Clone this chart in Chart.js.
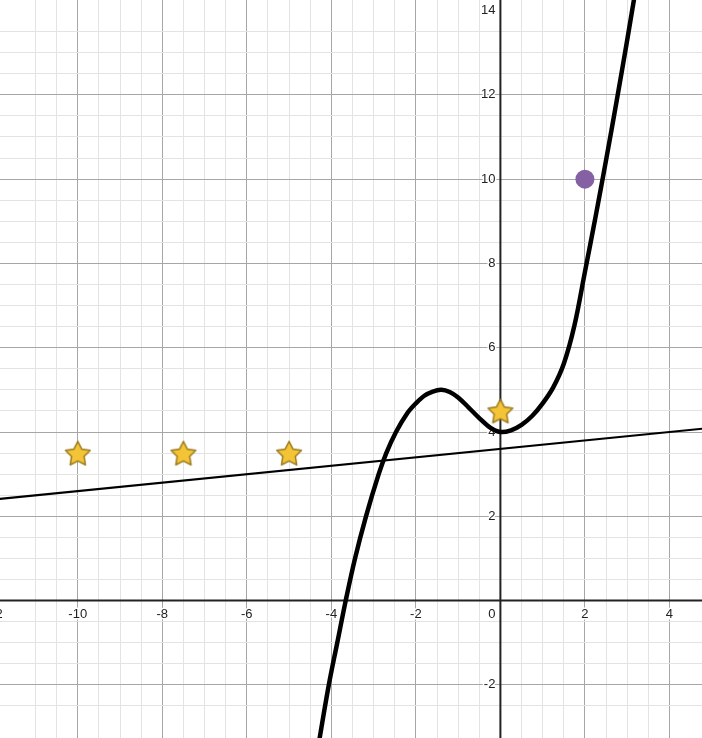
<!DOCTYPE html>
<html>
<head>
<meta charset="utf-8">
<script src="https://cdn.jsdelivr.net/npm/chart.js@4.4.1/dist/chart.umd.min.js"></script>
<style>
  body { margin: 0; background: #fff; }
  #wrap { width: 702px; height: 738px; position: relative; }
</style>
</head>
<body>
<div id="wrap"><canvas id="myChart"></canvas></div>
<script>
// visible window of the graph
const xMin = -11.84, xMax = 4.77;
const yMin = -3.26, yMax = 14.25;

// axis labels
const xTickLabels = [-12, -10, -8, -6, -4, -2, 2, 4];
const yTickLabels = [-2, 2, 4, 6, 8, 10, 12, 14];

// thick curve, points
const curveX = [-4.30, -4.06, -3.86, -3.66, -3.44, -3.18, -2.88, -2.70, -2.47, -2.20, -2.00, -1.80, -1.60, -1.40, -1.20, -1.00, -0.75, -0.50, -0.25, 0.00, 0.25, 0.50, 0.75, 1.00, 1.25, 1.50, 1.75, 2.00, 2.25, 2.50, 2.75, 3.00, 3.25];
const curveY = [-3.40, -2.00, -1.00, 0.00, 1.00, 2.00, 3.00, 3.50, 4.00, 4.45, 4.68, 4.86, 4.96, 5.00, 4.95, 4.82, 4.58, 4.33, 4.11, 4.00, 4.04, 4.17, 4.38, 4.68, 5.06, 5.62, 6.52, 7.80, 9.10, 10.45, 11.85, 13.30, 14.80];

// thin straight line
const lineX = [-12, 5];
const lineY = [2.4, 4.1];

// star markers
const starX = [-10, -7.5, -5, 0];
const starY = [3.5, 3.5, 3.5, 4.5];

// purple point
const dotX = [2];
const dotY = [10];

function toPoints(xs, ys) {
  return xs.map((x, i) => ({ x: x, y: ys[i] }));
}

// filled star image for the point style
function makeStar() {
  const R = 13, r = 6.6, lw = 1.5;
  const h = R * (1 + Math.cos(Math.PI / 5));
  const w = 2 * R * Math.sin(2 * Math.PI / 5);
  const c = document.createElement('canvas');
  c.width = Math.ceil(w + lw * 2 + 2);
  c.height = Math.ceil(h + lw * 2 + 2);
  const g = c.getContext('2d');
  const cx = c.width / 2;
  const cy = (c.height - h) / 2 + R; // centre the bounding box
  g.beginPath();
  for (let i = 0; i < 10; i++) {
    const rad = i % 2 === 0 ? R : r;
    const a = -Math.PI / 2 + i * Math.PI / 5;
    const px = cx + rad * Math.cos(a);
    const py = cy + rad * Math.sin(a);
    if (i === 0) g.moveTo(px, py); else g.lineTo(px, py);
  }
  g.closePath();
  g.fillStyle = '#f3c436';
  g.fill();
  g.lineJoin = 'round';
  g.lineWidth = lw;
  g.strokeStyle = '#9c7b1f';
  g.stroke();
  return c;
}

function isMultiple(v, step) {
  const q = v / step;
  return Math.abs(q - Math.round(q)) < 1e-6;
}

function gridColor(ctx) {
  const v = ctx.tick ? ctx.tick.value : 0;
  if (isMultiple(v, 2)) return '#a6a6a6';
  if (isMultiple(v, 0.5)) return '#e3e3e3';
  return 'rgba(0,0,0,0)';
}

// axes through the origin and the tick numbers
const axesPlugin = {
  id: 'axesPlugin',
  beforeDatasetsDraw(chart) {
    const ctx = chart.ctx;
    const xs = chart.scales.x, ys = chart.scales.y;
    const x0 = xs.getPixelForValue(0);
    const y0 = ys.getPixelForValue(0);
    const area = chart.chartArea;
    ctx.save();
    ctx.strokeStyle = '#222';
    ctx.lineWidth = 2;
    ctx.beginPath();
    ctx.moveTo(area.left, y0);
    ctx.lineTo(area.right, y0);
    ctx.moveTo(x0, area.top);
    ctx.lineTo(x0, area.bottom);
    ctx.stroke();

    ctx.font = '13px "Liberation Sans", Arial, sans-serif';
    ctx.fillStyle = '#222';
    ctx.strokeStyle = '#fff';
    ctx.lineWidth = 3;
    ctx.lineJoin = 'round';

    ctx.textAlign = 'center';
    ctx.textBaseline = 'alphabetic';
    xTickLabels.forEach(v => {
      const px = xs.getPixelForValue(v);
      ctx.strokeText(String(v), px, y0 + 17);
      ctx.fillText(String(v), px, y0 + 17);
    });
    ctx.textAlign = 'right';
    ctx.strokeText('0', x0 - 5, y0 + 17);
    ctx.fillText('0', x0 - 5, y0 + 17);

    ctx.textBaseline = 'middle';
    yTickLabels.forEach(v => {
      const py = ys.getPixelForValue(v);
      ctx.strokeText(String(v), x0 - 5, py);
      ctx.fillText(String(v), x0 - 5, py);
    });
    ctx.restore();
  }
};

const starImg = makeStar();

const ctx = document.getElementById('myChart').getContext('2d');
const myChart = new Chart(ctx, {
  type: 'scatter',
  data: {
    datasets: [
      {
        label: 'stars',
        data: toPoints(starX, starY),
        pointStyle: starImg,
        pointRadius: 13,
        showLine: false
      },
      {
        label: 'point',
        data: toPoints(dotX, dotY),
        pointStyle: 'circle',
        pointRadius: 9.5,
        pointBackgroundColor: '#8561a3',
        pointBorderWidth: 0,
        showLine: false
      },
      {
        label: 'curve',
        data: toPoints(curveX, curveY),
        showLine: true,
        borderColor: '#000',
        borderWidth: 4.5,
        pointRadius: 0,
        tension: 0.35,
        borderCapStyle: 'round',
        borderJoinStyle: 'round'
      },
      {
        label: 'line',
        data: toPoints(lineX, lineY),
        showLine: true,
        borderColor: '#000',
        borderWidth: 2.2,
        pointRadius: 0
      }
    ]
  },
  options: {
    responsive: true,
    maintainAspectRatio: false,
    animation: false,
    layout: { padding: 0, autoPadding: false },
    plugins: {
      legend: { display: false },
      tooltip: { enabled: false }
    },
    scales: {
      x: {
        type: 'linear',
        min: xMin,
        max: xMax,
        ticks: { display: false, stepSize: 0.5 },
        grid: { color: gridColor, drawTicks: false, lineWidth: 1 },
        border: { display: false }
      },
      y: {
        type: 'linear',
        min: yMin,
        max: yMax,
        ticks: { display: false, stepSize: 0.5 },
        grid: { color: gridColor, drawTicks: false, lineWidth: 1 },
        border: { display: false }
      }
    }
  },
  plugins: [axesPlugin]
});
</script>
</body>
</html>
